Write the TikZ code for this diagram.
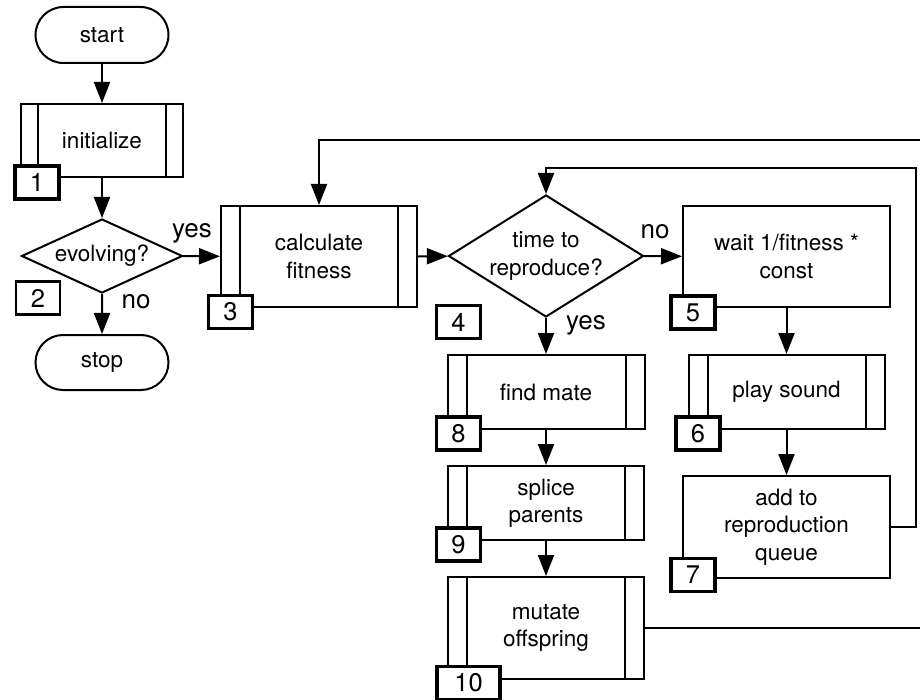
\documentclass[tikz,border=0pt]{standalone}
\usepackage{fontspec}
\setmainfont{TeX Gyre Heros}
\usetikzlibrary{shapes.geometric,shapes.misc,arrows.meta}
\begin{document}
\begin{tikzpicture}[x=1pt,y=-1pt,
  every node/.style={font=\fontsize{22.5}{27.5}\selectfont, align=center, inner sep=0pt},
  base/.style={draw, line width=2pt, fill=white},
  term/.style={base, rounded rectangle, minimum width=133pt, minimum height=56pt},
  proc/.style={base, rectangle},
  bar/.store in=\barw, bar=19pt,
  subproc/.style={base, rectangle, path picture={
    \draw[line width=2pt]
      ([xshift=\barw]path picture bounding box.north west) -- ([xshift=\barw]path picture bounding box.south west)
      ([xshift=-\barw]path picture bounding box.north east) -- ([xshift=-\barw]path picture bounding box.south east);}},
  dec/.style={base, diamond},
  numbox/.style={draw, line width=3.8pt, fill=white, minimum width=44pt, minimum height=33pt, font=\fontsize{25.5}{30}\selectfont},
  numthin/.style={numbox, line width=2.2pt},
  arr/.style={line width=2pt, -{Triangle[length=21pt,width=16pt]}},
  plain/.style={line width=2pt},
  lbl/.style={font=\fontsize{26}{30}\selectfont}
]
\useasboundingbox (0,0) rectangle (920,700);

% nodes
\node[term] (start) at (102,35) {start};
\node[subproc, bar=17pt, minimum width=162pt, minimum height=73pt] (init) at (102,140.5) {initialize};
\node[dec, shape aspect=2.18, minimum width=161pt, minimum height=74pt] (evolving) at (102,256) {evolving?};
\node[term, minimum height=55pt] (stop) at (102,362.5) {stop};
\node[subproc, minimum width=196pt, minimum height=101pt] (calc) at (319,256.5) {calculate\\fitness};
\node[dec, shape aspect=1.6, minimum width=195pt, minimum height=122pt] (time) at (546,256) {time to\\reproduce?};
\node[proc, minimum width=207pt, minimum height=101pt] (wait) at (786.5,256.5) {wait 1/fitness *\\const};
\node[subproc, minimum width=197pt, minimum height=74pt] (find) at (546,392) {find mate};
\node[subproc, minimum width=196pt, minimum height=74pt] (splice) at (546,503) {splice\\parents};
\node[subproc, minimum width=196pt, minimum height=102pt] (mutate) at (546,628) {mutate\\offspring};
\node[subproc, minimum width=196pt, minimum height=74pt] (play) at (786.5,392) {play sound};
\node[proc, minimum width=207pt, minimum height=102pt] (add) at (786.5,527) {add to\\reproduction\\queue};

% helper coordinates
\coordinate (topR) at (925,140);
\coordinate (loopR) at (916,168);
\coordinate (botR) at (925,628);

% connectors
\draw[arr] (start) -- (init);
\draw[arr] (init) -- (evolving);
\draw[arr] (evolving) -- (calc);
\draw[arr] (evolving) -- (stop);
\draw[arr] (calc) -- (time);
\draw[arr] (time) -- (wait);
\draw[arr] (time) -- (find);
\draw[arr] (find) -- (splice);
\draw[arr] (splice) -- (mutate);
\draw[arr] (wait) -- (play);
\draw[arr] (play) -- (add);
\draw[arr] (add.east) -| (loopR) -| (time.north);
\draw[arr] (topR) -| (calc.north);
\draw[plain] (mutate.east) -- (botR);

% branch labels
\node[lbl] (yes1) at (192,233) {yes};
\node[lbl] (no1) at (136,302) {no};
\node[lbl] (no2) at (655,232) {no};
\node[lbl] (yes2) at (586,325) {yes};

% number boxes
\node[numbox] (n1) at (37,182.5) {1};
\node[numthin] (n2) at (38,298) {2};
\node[numbox] (n3) at (230.5,312) {3};
\node[numthin] (n4) at (458.5,322) {4};
\node[numbox] (n5) at (693,312.5) {5};
\node[numbox] (n6) at (698,433.5) {6};
\node[numbox] (n7) at (693,575) {7};
\node[numbox] (n8) at (458.5,433.5) {8};
\node[numbox] (n9) at (458.5,544.5) {9};
\node[numbox, minimum width=63pt] (n10) at (468.5,683) {10};
\end{tikzpicture}
\end{document}
